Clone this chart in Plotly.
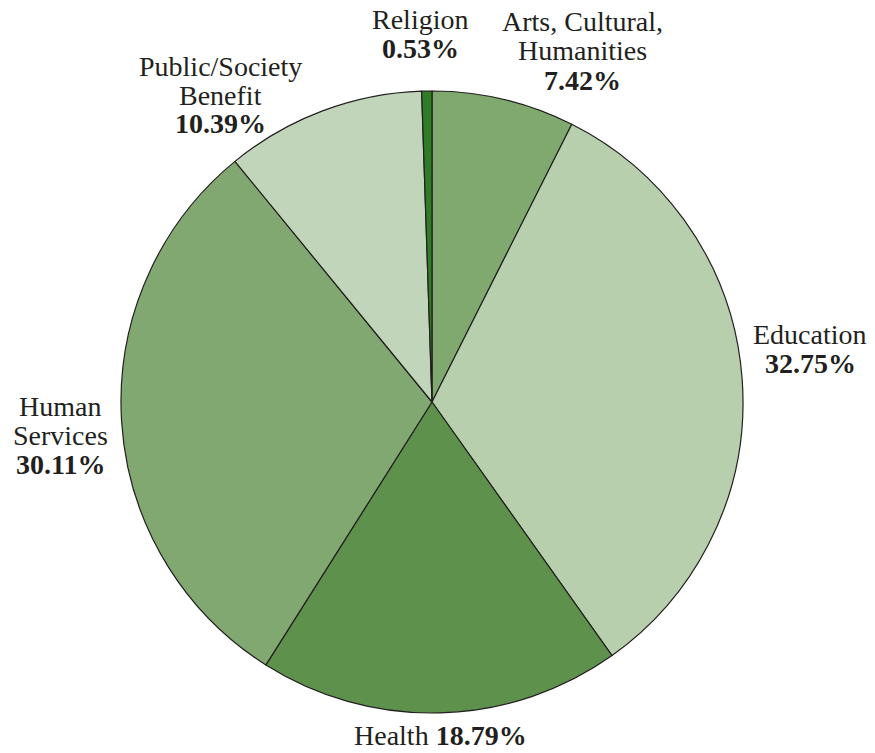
import plotly.graph_objects as go

categories = ["Arts, Cultural, Humanities", "Education", "Health",
              "Human Services", "Public/Society Benefit", "Religion"]
values = [7.42, 32.75, 18.79, 30.11, 10.39, 0.53]
label_lines = [["Arts, Cultural,", "Humanities"], ["Education"], ["Health"],
               ["Human", "Services"], ["Public/Society", "Benefit"], ["Religion"]]
colors = ["#80a970", "#b7cfad", "#5e924c", "#82a872", "#c1d5ba", "#2f7d27"]

W, H = 875, 753
# pie geometry in pixels (centre 432,402 ; radius 311)
cx, cy, r = 432, 402, 311

fig = go.Figure(go.Pie(
    labels=categories, values=values, sort=False, direction="clockwise",
    rotation=0, textinfo="none", hoverinfo="label+percent",
    marker=dict(colors=colors, line=dict(color="#231f20", width=1.2)),
    domain=dict(x=[(cx - r) / W, (cx + r) / W], y=[(H - cy - r) / H, (H - cy + r) / H]),
    showlegend=False,
))

# label anchor positions (pixel centre x, centre y of first line)
label_pos = {
    "Arts, Cultural, Humanities": (582, 22),
    "Education": (810, 334),
    "Health": (440, 735),
    "Human Services": (60, 406),
    "Public/Society Benefit": (220, 66),
    "Religion": (420, 20),
}
line_gap = 29

font = dict(family="Liberation Serif, DejaVu Serif, serif", size=28, color="#231f20")
for cat, val, lines in zip(categories, values, label_lines):
    x, y = label_pos[cat]
    if cat == "Health":
        rows = [f"{lines[0]} <b>{val:.2f}%</b>"]
    else:
        rows = lines + [f"<b>{val:.2f}%</b>"]
    for i, row in enumerate(rows):
        fig.add_annotation(x=x / W, y=1 - (y + i * line_gap) / H, xref="paper", yref="paper",
                           text=row, showarrow=False, xanchor="center", yanchor="middle",
                           align="center", font=font, borderpad=0)

fig.update_layout(width=W, height=H, margin=dict(l=0, r=0, t=0, b=0),
                  paper_bgcolor="white", plot_bgcolor="white")
fig.write_html("out.html")
